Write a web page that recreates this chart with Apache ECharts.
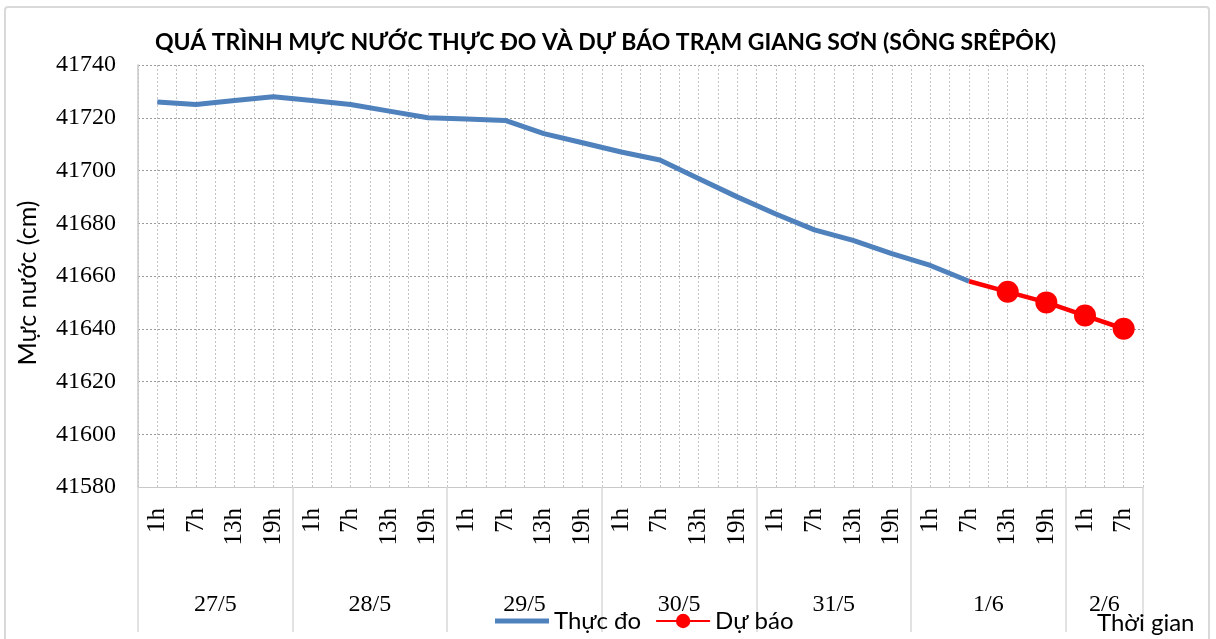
<!DOCTYPE html>
<html>
<head>
<meta charset="utf-8">
<script src="https://cdn.jsdelivr.net/npm/echarts@6/dist/echarts.min.js"></script>
<style>
html,body{margin:0;padding:0;background:#fff;}
#chart{width:1216px;height:639px;}
</style>
</head>
<body>
<div id="chart"></div>
<script>
// ---- data ----
const hourLabels = ['1h','7h','13h','19h','1h','7h','13h','19h','1h','7h','13h','19h','1h','7h','13h','19h','1h','7h','13h','19h','1h','7h','13h','19h','1h','7h'];
const dayLabels = ['27/5','28/5','29/5','30/5','31/5','1/6','2/6'];
const dayCounts = [4,4,4,4,4,4,2];
const observed = [41726, 41725, 41726.5, 41728, 41726.5, 41725, 41722.5, 41720, 41719.5, 41719, 41714, 41710.5, 41707, 41704, 41697, 41690, 41683.5, 41677.5, 41673.5, 41668.5, 41664, 41658];
const forecast = [null,null,null,null,null,null,null,null,null,null,null,null,null,null,null,null,null,null,null,null,null, 41658, 41654, 41650, 41645, 41640];
const yTicks = {min: 41580, max: 41740, interval: 20};

// ---- build half-step day axis ----
const nCat = hourLabels.length;
const halfData = new Array(nCat * 2 + 1).fill('');
const boundaries = [0];
let start = 0;
dayLabels.forEach((d, i) => {
  halfData[2 * start + dayCounts[i]] = d;
  start += dayCounts[i];
  boundaries.push(2 * start);
});

const forecastData = forecast.map((v, i) => {
  if (v === null) return null;
  if (i > 0 && forecast[i - 1] === null) return {value: v, symbol: 'none'};
  return v;
});

const serif = 'Liberation Serif';
const sans = 'Lato';

const chart = echarts.init(document.getElementById('chart'));
chart.setOption({
  animation: false,
  backgroundColor: '#fff',
  title: [
    {text: 'QUÁ TRÌNH MỰC NƯỚC THỰC ĐO VÀ DỰ BÁO TRẠM GIANG SƠN (SÔNG SRÊPÔK)', left: 150, top: 26,
     textStyle: {fontFamily: sans, fontWeight: 'bold', fontSize: 23, color: '#000'}},
    {text: 'Thời gian', left: 1092, top: 606, textStyle: {fontFamily: sans, fontWeight: 'normal', fontSize: 24, color: '#000'}}
  ],
  graphic: [{type: 'rect', shape: {x: 5, y: 7, width: 1204, height: 645, r: 3}, style: {fill: 'none', stroke: '#D9D9D9', lineWidth: 2}, z: 0}],
  legend: {
    left: 490, top: 604, itemWidth: 54, itemHeight: 18, itemGap: 14,
    textStyle: {fontFamily: sans, fontSize: 24, color: '#000'},
    data: [
      {name: 'Thực đo', icon: 'path://M0,0H54V5H0Z'},
      {name: 'Dự báo'}
    ]
  },
  grid: {left: 138, right: 73, top: 65, bottom: 152, containLabel: false},
  xAxis: [
    {type: 'category', data: hourLabels, boundaryGap: true, position: 'bottom',
     axisLine: {show: true, lineStyle: {color: '#C8C8C8', width: 1}},
     axisTick: {show: false},
     axisLabel: {rotate: 90, interval: 0, fontFamily: serif, fontSize: 25, color: '#000', margin: 21},
     splitLine: {show: false}},
    {type: 'category', data: halfData, boundaryGap: false, position: 'bottom',
     axisLine: {show: false},
     axisTick: {show: true, length: 145, interval: (i) => boundaries.indexOf(i) >= 0, lineStyle: {color: '#D9D9D9', width: 1.5}},
     axisLabel: {interval: (i, v) => v !== '', fontFamily: serif, fontSize: 24, color: '#000', margin: 106},
     splitLine: {show: true, interval: 0, lineStyle: {color: '#C4C4C4', type: [2, 2], width: 1}}}
  ],
  yAxis: {
    type: 'value', min: yTicks.min, max: yTicks.max, interval: yTicks.interval,
    name: 'Mực nước (cm)', nameLocation: 'middle', nameGap: 98, nameRotate: 90,
    nameTextStyle: {fontFamily: sans, fontSize: 25, color: '#000', padding: [0, 14, 0, 0]},
    axisLine: {show: true, lineStyle: {color: '#C8C8C8', width: 1.5}},
    axisTick: {show: false},
    axisLabel: {fontFamily: serif, fontSize: 24, color: '#000', margin: 22, formatter: (v) => String(v)},
    splitLine: {show: true, lineStyle: {color: '#9A9A9A', type: [2, 2], width: 1}}
  },
  series: [
    {name: 'Thực đo', type: 'line', data: observed, symbol: 'none', showSymbol: false,
     lineStyle: {color: '#4F81BD', width: 5}, itemStyle: {color: '#4F81BD'}, z: 3},
    {name: 'Dự báo', type: 'line', data: forecastData, symbol: 'circle', symbolSize: 22, connectNulls: false,
     lineStyle: {color: '#FF0000', width: 4.5}, itemStyle: {color: '#FF0000'}, z: 4}
  ]
});
</script>
</body>
</html>
